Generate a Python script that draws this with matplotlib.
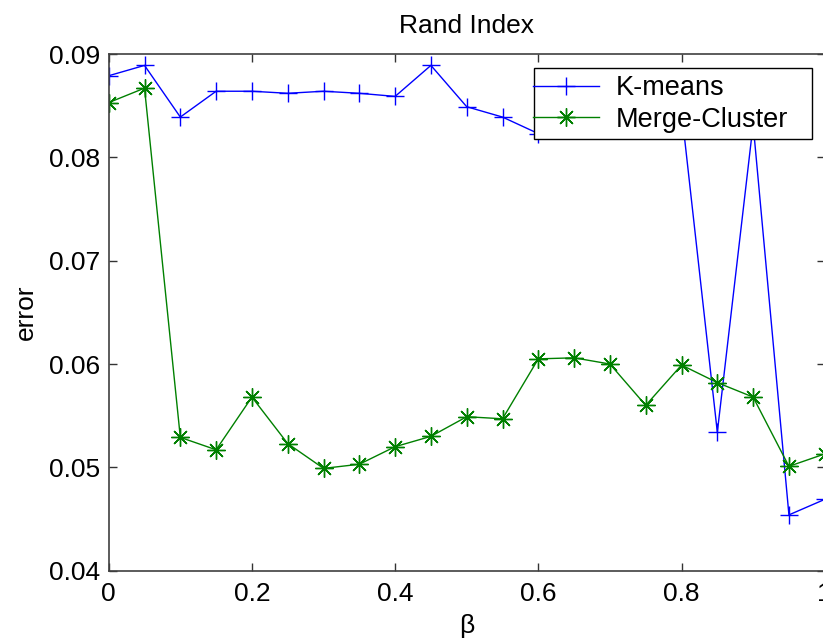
import matplotlib.pyplot as plt
import numpy as np
from matplotlib.legend_handler import HandlerLine2D
from matplotlib.offsetbox import DrawingArea

plt.rcParams['font.family'] = ['Liberation Sans', 'DejaVu Sans']

# beta values
beta = np.arange(0, 1.0001, 0.05)

# error values (0.65-0.75 of K-means are hidden behind the legend)
kmeans = [0.0879, 0.0889, 0.0839, 0.0864, 0.0864, 0.0862, 0.0864, 0.0862, 0.0859,
          0.0889, 0.0849, 0.0839, 0.0823, 0.0835, 0.0845, 0.0850, 0.0845, 0.0534,
          0.0832, 0.0454, 0.0469]
merge = [0.0853, 0.0867, 0.0529, 0.0517, 0.0568, 0.0523, 0.0499, 0.0503, 0.0520,
         0.0530, 0.0549, 0.0547, 0.0605, 0.0606, 0.0600, 0.0560, 0.0599, 0.0582,
         0.0568, 0.0501, 0.0513]

fig = plt.figure(figsize=(8.23, 6.41), dpi=100)
ax = fig.add_axes([0.1321, 0.1097, 0.870, 0.806])

ax.plot(beta, kmeans, color='#0000ff', marker='+', markersize=13, markeredgewidth=1.0,
        linewidth=1.0, label='K-means')
ax.plot(beta, merge, color='#008000', marker=(8, 2, 0), markersize=13,
        markeredgewidth=1.0, linewidth=1.0, label='Merge-Cluster')

ax.set_xlim(0, 1)
ax.set_ylim(0.04, 0.09)
ax.set_xticks([0, 0.2, 0.4, 0.6, 0.8, 1])
ax.set_xticklabels(['0', '0.2', '0.4', '0.6', '0.8', '1'])
ax.set_yticks([0.04, 0.05, 0.06, 0.07, 0.08, 0.09])
ax.set_yticklabels(['0.04', '0.05', '0.06', '0.07', '0.08', '0.09'])
ax.tick_params(direction='in', length=6, width=1, top=True, right=True,
               labelsize=19, colors='#333333', labelcolor='black')
ax.tick_params(axis='x', pad=8)
ax.tick_params(axis='y', pad=6)
for s in ax.spines.values():
    s.set_color('#404040')
    s.set_linewidth(1.2)

ax.set_title('Rand Index', fontsize=19, pad=15)
ax.set_xlabel('\u03b2', fontsize=19, labelpad=6)
ax.set_ylabel('error', fontsize=19, labelpad=8)

# handle line starts a little inside the box, like the original
hl = HandlerLine2D(xpad=-0.28)
leg = ax.legend(loc='upper right', bbox_to_anchor=(0.9862, 0.8934),
                bbox_transform=fig.transFigure, fontsize=19.5, frameon=True,
                fancybox=False, framealpha=1, edgecolor='black', borderaxespad=0,
                handlelength=2.13, handletextpad=0.61, borderpad=0.25,
                labelspacing=0.2, handler_map={plt.Line2D: hl})
leg.get_frame().set_linewidth(1.0)
# extra blank room right of the labels
for col in leg._legend_handle_box.get_children():
    for row in col.get_children():
        row.get_children().append(DrawingArea(0.5, 1))

fig.savefig('out.png', dpi=100)
